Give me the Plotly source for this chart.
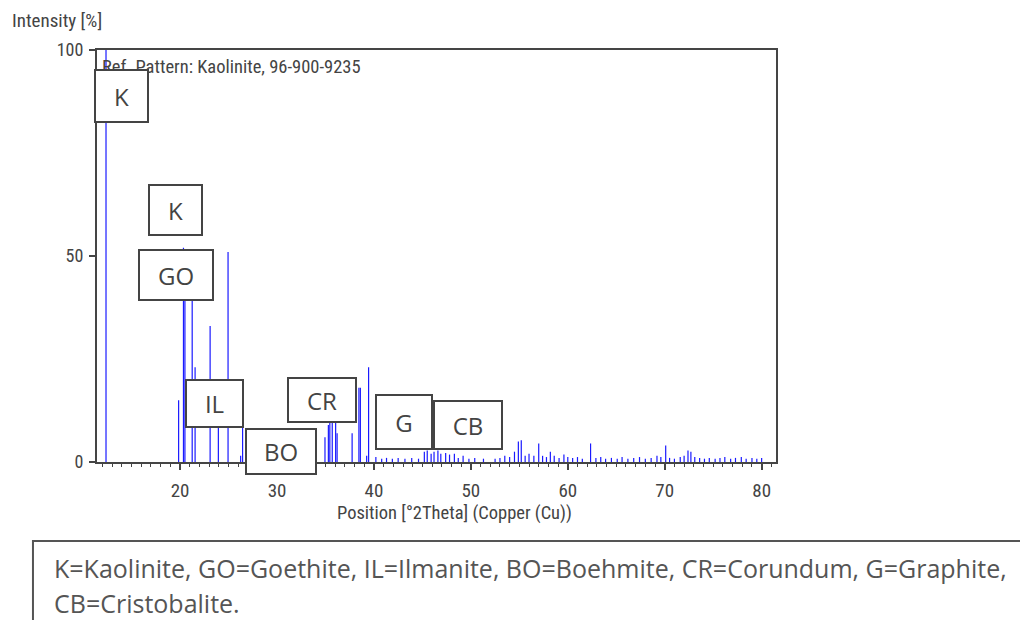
import plotly.graph_objects as go

# ---- data: XRD reference peaks (2theta in degrees, relative intensity %) ----
peak_pos = [12.36, 19.85, 20.35, 20.5, 21.25, 21.55, 23.1, 23.95, 24.95, 26.25, 26.45,
            34.95, 35.3, 35.45, 35.7, 36.05, 36.2, 37.75, 38.45, 38.6, 39.25, 39.45,
            40.2, 40.8, 41.3, 41.9, 42.5, 43.2, 43.9, 44.6, 45.2, 45.5, 45.9, 46.2, 46.6,
            46.9, 47.4, 47.8, 48.3, 48.7, 49.2, 49.8, 50.4, 51.3, 52.5, 53.0, 53.5, 54.0,
            54.5, 54.9, 55.2, 55.6, 56.0, 56.5, 57.0, 57.4, 57.8, 58.2, 58.6, 59.1, 59.6,
            60.0, 60.5, 61.0, 61.5, 62.35, 62.9, 63.4, 63.9, 64.5, 65.1, 65.6, 66.2, 66.8,
            67.4, 68.0, 68.6, 69.2, 69.6, 70.1, 70.5, 71.0, 71.6, 72.0, 72.4, 72.7, 73.1,
            73.6, 74.1, 74.6, 75.2, 75.7, 76.2, 76.8, 77.3, 77.9, 78.4, 79.0, 79.5, 80.0]
peak_int = [100, 15, 52, 40, 45, 23, 33, 14, 51, 1.5, 18,
            6, 9, 11, 12, 11, 7, 7, 18, 18, 1.5, 23,
            1.2, 0.8, 1.0, 0.8, 1.0, 0.8, 1.0, 0.8, 2.5, 2.8, 2.0, 2.5, 2.8,
            2.0, 2.2, 1.8, 2.0, 1.0, 1.5, 0.8, 1.0, 0.8, 0.8, 1.0, 1.5, 1.2,
            2.5, 5.0, 5.3, 1.5, 2.0, 1.5, 4.5, 1.5, 1.2, 2.5, 1.5, 1.0, 1.8,
            1.2, 1.0, 1.2, 0.8, 4.5, 1.0, 1.2, 0.8, 1.0, 0.8, 1.2, 0.8, 1.0,
            1.2, 0.8, 1.0, 1.5, 1.2, 4.0, 1.0, 0.8, 1.2, 1.5, 2.8, 2.5, 1.2,
            1.0, 0.8, 1.0, 0.8, 1.0, 1.2, 0.8, 1.0, 1.2, 0.8, 1.0, 0.8, 1.0]

y_ticks = [0, 50, 100]
x_ticks = [20, 30, 40, 50, 60, 70, 80]

phase_labels = ["K", "K", "GO", "IL", "BO", "CR", "G", "CB"]
legend_lines = ["K=Kaolinite, GO=Goethite, IL=Ilmanite, BO=Boehmite, CR=Corundum, G=Graphite,",
                "CB=Cristobalite."]
ref_text = "Ref. Pattern: Kaolinite, 96-900-9235"

# ---- layout: label box centres (data units) and sizes (px) ----
label_xy = [(13.96, 88.8), (19.54, 61.2), (19.59, 45.4), (23.56, 14.3),
            (30.42, 2.55), (34.65, 15.05), (43.12, 9.7), (49.72, 9.0)]
label_wh = [(55, 54), (55, 52), (76, 52), (59, 49), (72, 47), (70, 46), (58, 56), (70, 50)]

# build stick lines
xs, ys = [], []
for p, h in zip(peak_pos, peak_int):
    xs += [p, p, None]
    ys += [0, h, None]

fig = go.Figure()
fig.add_trace(go.Scatter(x=xs, y=ys, mode="lines",
                         line=dict(color="#1a1aff", width=1.2),
                         hoverinfo="skip", showlegend=False))

narrow = "Liberation Sans Narrow, Roboto Condensed, Arial Narrow, sans-serif"
axcol = "#454545"

fig.update_layout(
    width=1020, height=620,
    margin=dict(l=97, r=244, t=50, b=158),
    paper_bgcolor="white", plot_bgcolor="white",
    showlegend=False,
    xaxis=dict(range=[11.43, 81.48], tickvals=x_ticks, ticks="outside", ticklen=6,
               tickcolor=axcol, tickwidth=1.5, showline=True, linecolor=axcol, linewidth=2,
               mirror=True, showgrid=False, zeroline=False,
               tickfont=dict(family=narrow, size=19, color="#444"),
               ticklabelstandoff=4,
               minor=dict(dtick=1, tick0=0, ticks="outside", ticklen=3,
                          tickcolor=axcol, tickwidth=1.2, showgrid=False)),
    yaxis=dict(range=[0, 100], tickvals=y_ticks, ticks="outside", ticklen=6,
               tickcolor=axcol, tickwidth=1.5, showline=True, linecolor=axcol, linewidth=2,
               mirror=True, showgrid=False, zeroline=False,
               tickfont=dict(family=narrow, size=18, color="#444"),
               ticklabelstandoff=2),
)

ann = []
ann.append(dict(xref="paper", yref="paper", x=0.5258, y=-0.1238, xanchor="center", yanchor="middle",
                text="Position [°2Theta] (Copper (Cu))", showarrow=False,
                font=dict(family=narrow, size=18.5, color="#444")))
ann.append(dict(xref="paper", yref="paper", x=-0.1281, y=1.0728, xanchor="left", yanchor="middle",
                text="Intensity [%]", showarrow=False,
                font=dict(family=narrow, size=19, color="#444")))
ann.append(dict(xref="paper", yref="paper", x=0.0044, y=0.9587, xanchor="left", yanchor="middle",
                text=ref_text, showarrow=False,
                font=dict(family=narrow, size=18.5, color="#444")))
for lab, (lx, ly), (w, h) in zip(phase_labels, label_xy, label_wh):
    ann.append(dict(x=lx, y=ly, xref="x", yref="y", xanchor="center", yanchor="middle",
                    text=lab, showarrow=False, width=w - 4, height=h - 4,
                    bgcolor="white", bordercolor="#444", borderwidth=2, borderpad=0,
                    font=dict(family="Open Sans, sans-serif", size=24, color="#444")))
for i, line in enumerate(legend_lines):
    ann.append(dict(xref="paper", yref="paper", x=-0.0663, y=[-0.2573, -0.3422][i],
                    xanchor="left", yanchor="middle", text=line, showarrow=False,
                    font=dict(family="Open Sans, sans-serif", size=25, color="#555")))
fig.update_layout(annotations=ann)

fig.add_shape(type="rect", xref="paper", yref="paper", x0=-0.0943, x1=1.374, y0=-0.4078, y1=-0.1917,
              line=dict(color="#555", width=2), fillcolor="rgba(0,0,0,0)", layer="below")

fig.write_html("out.html")
